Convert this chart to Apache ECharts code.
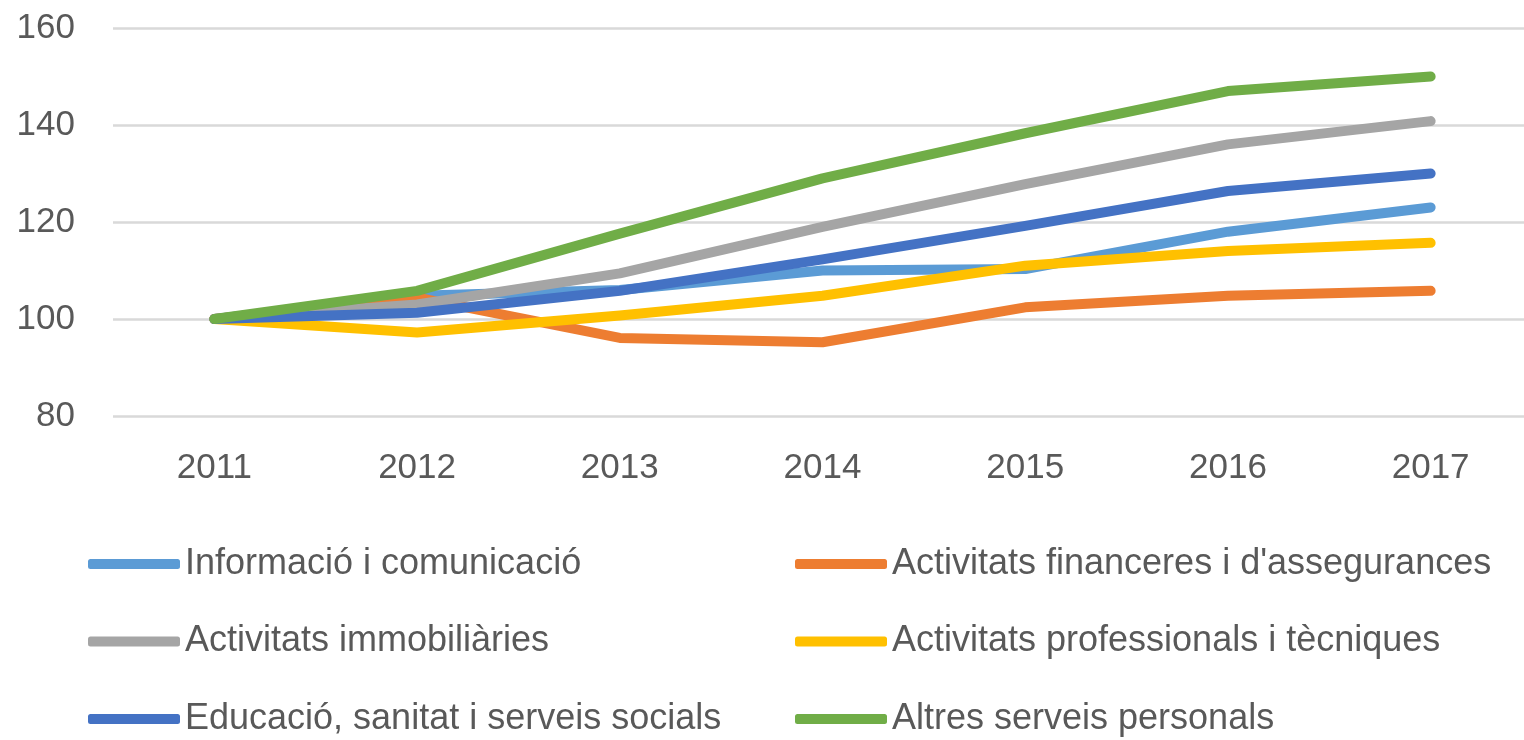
<!DOCTYPE html>
<html>
<head>
<meta charset="utf-8">
<script src="https://cdn.jsdelivr.net/npm/echarts@6/dist/echarts.min.js"></script>
<style>
	html, body { margin: 0; padding: 0; background: #fff; }
	#chart { width: 1524px; height: 740px; }
</style>
</head>
<body>
<div id="chart"></div>
<script>
// 数据
const years = ['2011', '2012', '2013', '2014', '2015', '2016', '2017'];
const informacio = [100, 104.8, 106, 110, 110.3, 118, 123];
const financeres = [100, 104.4, 96.1, 95.2, 102.4, 104.8, 105.8];
const immobiliaries = [100, 103, 109.4, 119, 127.8, 136, 140.8];
const professionals = [100, 97.2, 100.7, 104.8, 111, 114, 115.7];
const educacio = [100, 101.3, 105.8, 112.3, 119.2, 126.4, 130];
const altres = [100, 105.8, 117.6, 129, 138.3, 147, 150];

const names = [
	'Informació i comunicació',
	"Activitats financeres i d'assegurances",
	'Activitats immobiliàries',
	'Activitats professionals i tècniques',
	'Educació, sanitat i serveis socials',
	'Altres serveis personals',
];
const values = [informacio, financeres, immobiliaries, professionals, educacio, altres];
const colors = ['#5B9BD5', '#ED7D31', '#A5A5A5', '#FFC000', '#4472C4', '#70AD47'];

const font = "'Liberation Sans', Arial, sans-serif";

// 图例：两列，每列三项
function legendCol(left, data) {
	return {
		orient: 'vertical',
		left: left,
		top: 544,
		padding: 0,
		icon: 'roundRect',
		itemWidth: 92,
		itemHeight: 10,
		itemGap: 37.5,
		data: data,
		textStyle: { fontFamily: font, fontSize: 36, color: '#595959', lineHeight: 40 },
	};
}

const myChart = echarts.init(document.getElementById('chart'));
myChart.setOption({
	animation: false,
	color: colors,
	// 绘图区向右超出画布一点，与原图一致
	grid: { left: 113, width: 1419, top: 28, height: 388, outerBoundsMode: 'none' },
	legend: [
		legendCol(88, [names[0], names[2], names[4]]),
		legendCol(795, [names[1], names[3], names[5]]),
	],
	xAxis: {
		type: 'category',
		data: years,
		boundaryGap: true,
		axisLine: { show: false },
		axisTick: { show: false },
		axisLabel: { fontFamily: font, fontSize: 35, color: '#595959', margin: 35 },
	},
	yAxis: {
		type: 'value',
		min: 80,
		max: 160,
		interval: 20,
		axisLine: { show: false },
		axisTick: { show: false },
		axisLabel: { fontFamily: font, fontSize: 35, color: '#595959', margin: 38 },
		splitLine: { lineStyle: { color: '#D9D9D9', width: 2.5 } },
	},
	series: names.map((n, i) => ({
		name: n,
		type: 'line',
		data: values[i],
		symbol: 'none',
		lineStyle: { width: 10, cap: 'round', join: 'round' },
	})),
});
</script>
</body>
</html>
